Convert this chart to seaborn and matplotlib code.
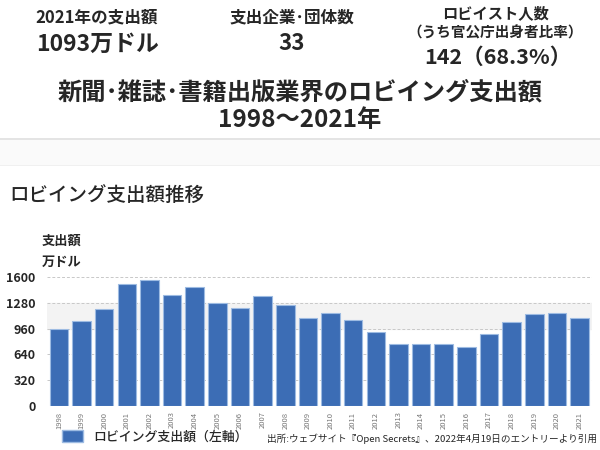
import matplotlib
matplotlib.use("Agg")
import matplotlib.pyplot as plt
import seaborn as sns
import pandas as pd
from matplotlib.patches import Patch, Rectangle

years = [str(y) for y in range(1998, 2022)]
spending = [957, 1057, 1202, 1517, 1567, 1376, 1476, 1277, 1214, 1360, 1256,
            1086, 1152, 1069, 920, 775, 775, 775, 734, 891, 1036, 1140, 1152, 1093]
yticks = [0, 320, 640, 960, 1280, 1600]

sns.set_theme(style="white")
plt.rcParams['font.family'] = ['Noto Sans CJK JP', 'DejaVu Sans']

W, H = 600, 450
fig = plt.figure(figsize=(6, 4.5), dpi=100)

def fy(y):
    return 1 - y / H

# header separator band
fig.patches.append(Rectangle((0, fy(165)), 1, (165 - 139) / H, transform=fig.transFigure,
                             facecolor='#fafafa', edgecolor='none', zorder=0))
fig.patches.append(Rectangle((0, fy(140)), 1, 2 / H, transform=fig.transFigure,
                             facecolor='#e4e4e4', edgecolor='none', zorder=0))
fig.patches.append(Rectangle((0, fy(166)), 1, 1 / H, transform=fig.transFigure,
                             facecolor='#f0f0f0', edgecolor='none', zorder=0))

# header texts
fig.text(97 / W, fy(17), '2021年の支出額', ha='center', va='center', fontsize=12, fontweight='bold')
fig.text(98 / W, fy(44), '1093万ドル', ha='center', va='center', fontsize=16.5, fontweight='bold')
fig.text(292 / W, fy(17), '支出企業･団体数', ha='center', va='center', fontsize=12, fontweight='bold')
fig.text(292 / W, fy(43), '33', ha='center', va='center', fontsize=16, fontweight='bold')
fig.text(495 / W, fy(13), 'ロビイスト人数', ha='center', va='center', fontsize=11, fontweight='bold')
fig.text(495 / W, fy(33), '（うち官公庁出身者比率）', ha='center', va='center', fontsize=10.5, fontweight='bold')
fig.text(498 / W, fy(57), '142（68.3%）', ha='center', va='center', fontsize=15.5, fontweight='bold')
fig.text(300 / W, fy(93), '新聞･雑誌･書籍出版業界のロビイング支出額', ha='center', va='center',
         fontsize=17.5, fontweight='bold')
fig.text(300 / W, fy(120), '1998～2021年', ha='center', va='center', fontsize=17.5, fontweight='bold')

fig.text(9 / W, fy(196), 'ロビイング支出額推移', ha='left', va='center', fontsize=14, fontweight='medium')
fig.text(42 / W, fy(241), '支出額', ha='left', va='center', fontsize=9.5, fontweight='bold')
fig.text(42 / W, fy(262), '万ドル', ha='left', va='center', fontsize=9.5, fontweight='bold')

# chart
left, right, top, bottom = 46.5, 592, 277, 406
ax = fig.add_axes([left / W, fy(bottom), (right - left) / W, (bottom - top) / H])
df = pd.DataFrame({'year': years, 'spending': spending})
bar_color = '#3c6db5'
sns.barplot(data=df, x='year', y='spending', color=bar_color, saturation=1, width=0.82,
            edgecolor='#9dbbe2', linewidth=0.8, ax=ax, zorder=3)
ax.axhspan(960, 1280, color='#f3f3f3', zorder=0)
ax.set_ylim(0, 1600)
ax.set_xlim(-0.55, len(years) - 0.45)
ax.set_yticks(yticks)
ax.set_yticklabels([str(t) for t in yticks], fontsize=9, fontweight='bold')
for t in yticks[1:]:
    ax.axhline(t, color='#c8c8c8', lw=0.7, ls=(0, (3, 2)), zorder=1)
ax.tick_params(axis='x', labelrotation=90, labelsize=5.5, labelcolor='#777777', length=0, pad=4)
ax.tick_params(axis='y', length=0, pad=8)
ax.set_xlabel('')
ax.set_ylabel('')
for s in ax.spines.values():
    s.set_visible(False)
ax.grid(False)

fig.legend(handles=[Patch(facecolor=bar_color, edgecolor='#9dbbe2')],
           labels=['ロビイング支出額（左軸）'], loc='center left',
           bbox_to_anchor=(62 / W, fy(437)), frameon=False, borderpad=0, borderaxespad=0,
           handlelength=1.6, handleheight=1.0, handletextpad=0.8,
           prop={'weight': 'medium', 'size': 9.3})
fig.text(597 / W, fy(439), '出所:ウェブサイト『Open Secrets』、2022年4月19日のエントリーより引用',
         ha='right', va='center', fontsize=6.9)

fig.savefig('out.png', dpi=100)
